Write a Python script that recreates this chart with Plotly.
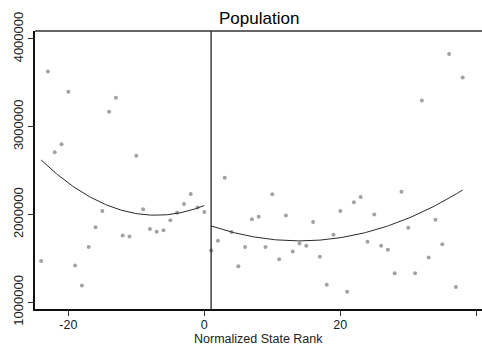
import numpy as np
import plotly.graph_objects as go

# Normalized state rank (left and right of the cutoff) and state population
rank_left = list(range(-24, 1))
pop_left = [1470000, 3630000, 2710000, 2800000, 3400000, 1420000, 1190000, 1630000,
            1855000, 2040000, 3170000, 3330000, 1760000, 1750000, 2670000, 2060000,
            1835000, 1805000, 1820000, 1935000, 2020000, 2120000, 2235000, 2080000,
            2030000]

rank_right = list(range(1, 39))
pop_right = [1590000, 1700000, 2420000, 1800000, 1410000, 1630000, 1945000, 1975000,
             1630000, 2230000, 1490000, 1990000, 1580000, 1670000, 1645000, 1915000,
             1520000, 1200000, 1770000, 2040000, 1120000, 2140000, 2200000, 1690000,
             2000000, 1645000, 1600000, 1330000, 2260000, 1850000, 1330000, 3300000,
             1510000, 1940000, 1660000, 3830000, 1175000, 3560000]

# Fitted (quadratic) population at selected ranks on each side
fit_rank_left = [-24, -20, -16, -12, -8, -4, 0]
fit_pop_left = [2620000, 2360000, 2170000, 2045000, 1992000, 2010000, 2105000]
fit_rank_right = [1, 6, 11, 16, 21, 26, 31, 38]
fit_pop_right = [1870000, 1764000, 1709000, 1704000, 1749000, 1845000, 1990000, 2280000]

cutoff = 1
x_ticks = [-20, 0, 20, 40]
y_ticks = [1000000, 2000000, 3000000, 4000000]

FONT = "Liberation Sans, Arial, sans-serif"
POINT_COLOR = "#a3a3a3"
LINE_COLOR = "#2b2b2b"

fig = go.Figure()

for xs, ys in [(rank_left, pop_left), (rank_right, pop_right)]:
    fig.add_trace(go.Scatter(
        x=xs, y=ys, mode="markers",
        marker=dict(color=POINT_COLOR, size=4, line=dict(width=0)),
        showlegend=False, hoverinfo="skip",
    ))

# Smooth quadratic curve through the fitted values on each side
for xs, ys in [(fit_rank_left, fit_pop_left), (fit_rank_right, fit_pop_right)]:
    coef = np.polyfit(xs, ys, 2)
    grid = np.linspace(min(xs), max(xs), 120)
    fig.add_trace(go.Scatter(
        x=grid, y=np.polyval(coef, grid), mode="lines",
        line=dict(color=LINE_COLOR, width=1),
        showlegend=False, hoverinfo="skip",
    ))

# Vertical line at the cutoff
fig.add_shape(type="line", xref="x", yref="paper", x0=cutoff, x1=cutoff, y0=0, y1=1,
              line=dict(color="#111111", width=1.2))
# Top frame line
fig.add_shape(type="line", xref="paper", yref="paper", x0=0, x1=1, y0=1, y1=1,
              line=dict(color="#333333", width=1.5))

fig.add_annotation(text="Population", xref="paper", yref="paper", x=0.5, y=1,
                   yshift=13, yanchor="middle", showarrow=False,
                   font=dict(family=FONT, size=17, color="#000000"))

fig.add_annotation(text="Normalized State Rank", xref="paper", yref="paper", x=0.5, y=0,
                   yshift=-30, yanchor="middle", showarrow=False,
                   font=dict(family=FONT, size=12.5, color="#222222"))

fig.update_layout(
    width=482, height=346,
    margin=dict(l=35, r=0, t=31, b=37),
    paper_bgcolor="white", plot_bgcolor="white",
    font=dict(family=FONT, size=13, color="#222222"),
    xaxis=dict(
        range=[-24.9, 40.84], tickvals=x_ticks, ticktext=[str(v) for v in x_ticks],
        showgrid=False, zeroline=False, showline=True, linecolor="#111111", linewidth=1.5,
        ticks="outside", ticklen=5, tickcolor="#333333", tickwidth=1,
        tickfont=dict(size=12.5), ticklabelstandoff=-2,
    ),
    yaxis=dict(
        range=[923600, 4091000], tickvals=y_ticks, ticktext=[str(v) for v in y_ticks],
        showgrid=False, zeroline=False, showline=True, linecolor="#111111", linewidth=1.5,
        ticks="outside", ticklen=5, tickcolor="#333333", tickwidth=1,
        tickangle=-90, tickfont=dict(size=13),
    ),
)

fig.write_html("out.html")
